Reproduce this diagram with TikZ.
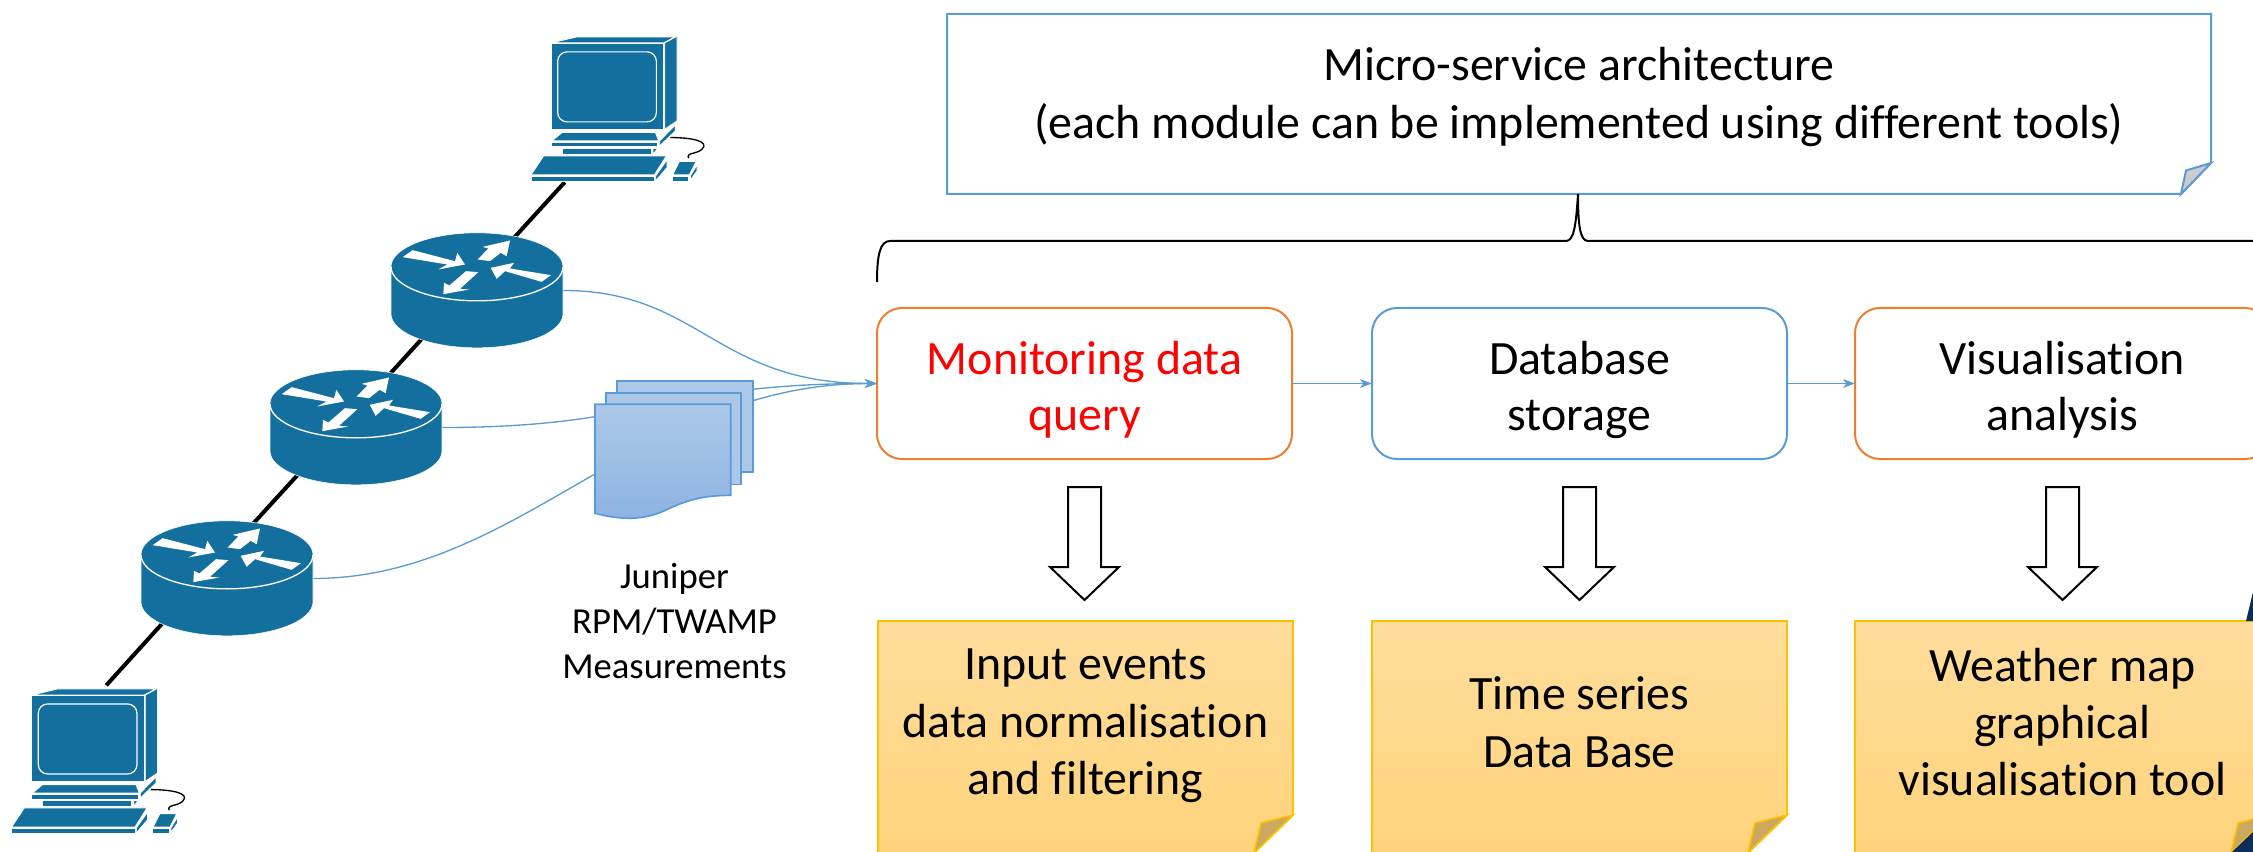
\documentclass[tikz,border=0pt]{standalone}
\usepackage{fontspec}
\setmainfont[Ligatures=NoCommon]{Carlito}
\usetikzlibrary{arrows.meta,calc,backgrounds}

\definecolor{ciscoblue}{RGB}{18,111,158}
\definecolor{officeblue}{RGB}{91,155,213}
\definecolor{officeorange}{RGB}{237,125,49}
\definecolor{officegold}{RGB}{255,192,0}
\definecolor{navybit}{RGB}{12,44,92}
\definecolor{sheettop}{RGB}{172,200,233}
\definecolor{sheetbottom}{RGB}{141,179,226}
\definecolor{notetop}{RGB}{255,221,156}
\definecolor{notebottom}{RGB}{255,211,123}
\definecolor{foldgold}{RGB}{202,168,96}

% pushes the two lines of a stage box a little below its middle
\newcommand{\topgap}{\rule{0pt}{41.5pt}}

\tikzset{every picture/.style={line width=0.75pt}}
\tikzset{
  bigtext/.style={font=\fontsize{35.9}{43}\selectfont,align=center,inner sep=0pt,outer sep=0pt,execute at begin node=\strut,execute at end node=\strut},
  stagebox/.style={font=\fontsize{35.9}{42}\selectfont,align=center,inner sep=0pt,outer sep=0pt,execute at end node=\strut,draw,rounded corners=18.75pt,line width=1.5pt,minimum width=311.25pt,minimum height=113.25pt},
  noteshell/.style={bigtext,minimum width=311.25pt,minimum height=164.25pt},
  archshell/.style={bigtext,minimum width=948pt,minimum height=131.25pt},
  routerspot/.style={inner sep=0pt,outer sep=0pt,minimum width=129pt,minimum height=86.25pt},
  pcspot/.style={inner sep=0pt,outer sep=0pt,minimum width=134.5pt,minimum height=108.75pt},
  flowline/.style={draw=officeblue,line width=1pt,-{Stealth[length=9pt,width=6.5pt,inset=2.5pt]}},
  netlink/.style={line width=3pt},
  hollowdown/.style={draw,fill=white,line width=1.5pt},
  sheet/.style={draw=officeblue,line width=1.25pt,fill=sheettop,inner sep=0pt,outer sep=0pt},
  pics/router/.style={code={
    \begin{scope}[x=0.25pt,y=-0.25pt,shift={(0,-71)}]
      \path[draw=white,line width=0.4pt,fill=ciscoblue] (-258,0) -- (-258,141) .. controls (-258,197) and (-142,243) .. (0,243) .. controls (142,243) and (258,197) .. (258,141) -- (258,0) .. controls (258,-56) and (142,-102) .. (0,-102) .. controls (-142,-102) and (-258,-56) .. (-258,0) -- cycle;
      \draw[white,line width=1pt] (-258,0) .. controls (-258,56) and (-142,102) .. (0,102) .. controls (142,102) and (258,56) .. (258,0);
      \fill[white] (-223,-29) -- (-193,-50) -- (-66,-17) -- (-59,-42) -- (-36,-7) -- (-116,8) -- (-89,-7) -- cycle;
      \fill[white] (2,-22) -- (34,-55) -- (17,-60) -- (99,-79) -- (89,-32) -- (71,-42) -- (39,-17) -- cycle;
      \fill[white] (41,3) -- (111,-12) -- (99,5) -- (222,25) -- (194,45) -- (84,13) -- (59,36) -- cycle;
      \fill[white] (-101,82) -- (-99,48) -- (-83,56) -- (-33,13) -- (4,16) -- (-51,66) -- (-23,68) -- cycle;
    \end{scope}
  }},
  pics/desktop/.style={code={
    \begin{scope}[x=0.25pt,y=-0.25pt,shift={(-209,-195.5)}]
      \draw[line width=1pt] (358,282) .. controls (418,282) and (478,292) .. (453,317) .. controls (438,332) and (403,327) .. (413,344);
      \begin{scope}[draw=white,fill=ciscoblue,line width=0.6pt]
        \filldraw (2,-2) -- (78,-20) -- (372,-20) -- (338,-2) -- cycle;
        \filldraw (341,-2) -- (378,-22) -- (378,232) -- (341,257) -- cycle;
        \filldraw (0,0) rectangle (338,257);
        \filldraw (3,292) -- (33,267) -- (313,267) -- (323,292) -- cycle;
        \filldraw (326,292) -- (373,244) -- (373,262) -- (326,307) -- cycle;
        \filldraw (0,297) rectangle (320,310);
        \filldraw (33,315) rectangle (300,332);
        \filldraw (306,315) -- (320,315) -- (306,332) -- cycle;
        \filldraw (-60,394) -- (-22,337) -- (346,337) -- (310,394) -- cycle;
        \filldraw (314,397) -- (348,349) -- (348,372) -- (314,412) -- cycle;
        \filldraw (-60,398) rectangle (310,413);
        \filldraw (365,394) -- (385,354) -- (435,354) -- (415,394) -- cycle;
        \filldraw (418,397) -- (438,364) -- (438,382) -- (418,410) -- cycle;
        \filldraw (363,398) rectangle (413,413);
      \end{scope}
      \draw[white,line width=0.9pt,rounded corners=7pt] (20,25) rectangle (316,235);
    \end{scope}
  }}
}

\begin{document}
\begin{tikzpicture}[x=0.75pt,y=0.75pt,yscale=-1,xscale=1]
  \useasboundingbox (0,0) rectangle (2253,852);

  %Routers and hosts, placed first so the links can go behind them
  \node[pcspot] (pcA) at (620.7,108.7) {};
  \node[pcspot] (pcB) at (101.3,760.8) {};
  \node[routerspot] (rA) at (477,290.5) {};
  \node[routerspot] (rB) at (356,427.5) {};
  \node[routerspot] (rC) at (227,578.5) {};
  \coordinate (footA) at ($(pcA.south)+(-56,1)$);
  \coordinate (footB) at ($(pcB.north)+(5,-3)$);
  \coordinate (tapA) at ($(rA)+(-11,0)$);
  \coordinate (tapB) at ($(rB)+(-15,0)$);
  \coordinate (tapC) at ($(rC)+(-24,0)$);

  %Stages
  \node[stagebox,draw=officeorange,text=red] (queryBox) at (1084.5,383.5) {\topgap Monitoring data\\query};
  \node[stagebox,draw=officeblue] (dbBox) at (1579.5,383.5) {\topgap Database\\storage};
  \node[stagebox,draw=officeorange] (vizBox) at (2062.5,383.5) {\topgap Visualisation\\analysis};

  %Straight Lines
  \draw[netlink] (footA) -- (tapA) -- (tapB) -- (tapC) -- (footB);

  %Curves into the first stage
  \draw[flowline] (rA.east) .. controls (700,290.5) and (715,383.5) .. (queryBox.west);
  \draw[flowline] (rB.east) .. controls (650,427.5) and (660,383.5) .. (queryBox.west);
  \draw[flowline] (rC.east) .. controls (520,578.5) and (640,383.5) .. (queryBox.west);
  \draw[flowline] (queryBox) -- (dbBox);
  \draw[flowline] (dbBox) -- (vizBox);

  \pic at (pcA) {desktop};
  \pic at (pcB) {desktop};
  \pic at (rA) {router};
  \pic at (rB) {router};
  \pic at (rC) {router};

  %Measurement sheets
  \node[sheet,minimum width=102pt,minimum height=68.5pt] (sheetBack) at (684.7,426.6) {};
  \node[sheet,minimum width=101.25pt,minimum height=68.75pt] (sheetMid) at (673.5,438.5) {};
  \draw[officeblue,line width=1.25pt,top color=sheettop,bottom color=sheetbottom] (595,404.3) -- (730.7,404.3) -- (730.7,495.3) .. controls (705,495.5) and (690,499) .. (668,509) .. controls (645,521) and (620,520) .. (595,513.3) -- cycle;

  % Text Node
  \node[inner sep=0pt,outer sep=0pt,align=center,font=\fontsize{27.5}{33.75}\selectfont] (sheetLabel) at (674.5,621) {Juniper\\RPM/TWAMP\\Measurements};

  %Note on top
  \node[archshell] (archNote) at (1579,101.5) {Micro-service architecture\\(each module can be implemented using different tools)};
  \begin{pgfonlayer}{background}
    \filldraw[draw=officeblue,line width=1.5pt,fill=white] (archNote.north west) -- (archNote.north east) -- ($(archNote.south east)+(0,-26)$) -- ($(archNote.south east)+(-30,5)$) -- ($(archNote.south west)+(0,5)$) -- cycle;
    \filldraw[draw=officeblue,line width=1.5pt,fill=black!20] ($(archNote.south east)+(0,-26)$) -- ($(archNote.south east)+(-25,-18.5)$) -- ($(archNote.south east)+(-30,5)$) -- cycle;
  \end{pgfonlayer}

  %Brace
  \coordinate (braceTip) at ($(archNote.south)+(-1,5)$);
  \draw[line width=1.5pt] (877,282) .. controls (877,255) and (880,241) .. (890,241) -- (1566,241) .. controls (1574,241) and (1576,225) .. (braceTip) .. controls (1578,225) and (1580,241) .. (1588,241) -- (2275,241);

  %Notes below, text is centred above the middle of the paper
  \foreach \notename/\cx/\notetext in {inputNote/1085.5/{Input events\\data normalisation\\and filtering},seriesNote/1579.5/{Time series\\Data Base},mapNote/2062.5/{Weather map\\graphical\\visualisation tool}} {
    \node[noteshell] (\notename) at (\cx,730.5) {\notetext};
    \begin{pgfonlayer}{background}
      \path[top color=notetop,bottom color=notebottom] (\notename.north west) -- (\notename.north east) -- ($(\notename.south east)+(0,-25)$) -- ($(\notename.south east)+(-39,13)$) -- ($(\notename.south west)+(0,13)$) -- cycle;
      \draw[officegold,line width=1.25pt] ($(\notename.south west)+(0,13)$) -- (\notename.north west) -- (\notename.north east) -- ($(\notename.south east)+(0,-25)$) -- ($(\notename.south east)+(-39,13)$);
      \filldraw[draw=officegold,line width=1.25pt,fill=foldgold] ($(\notename.south east)+(0,-25)$) -- ($(\notename.south east)+(-32,-17)$) -- ($(\notename.south east)+(-39,13)$) -- cycle;
    \end{pgfonlayer}
  }

  %Bits of a picture showing at the right edge
  \begin{pgfonlayer}{background}
    \fill[navybit] (2246,621) -- (2253,592) -- (2253,621) -- cycle;
    \fill[navybit] (2232,852) -- (2253,832) -- (2253,852) -- cycle;
  \end{pgfonlayer}

  %Hollow arrows
  \foreach \boxname in {queryBox,dbBox,vizBox} {
    \draw[hollowdown] ($(\boxname.south)+(-16.5,28)$) -- ($(\boxname.south)+(16.5,28)$) -- ($(\boxname.south)+(16.5,108)$) -- ($(\boxname.south)+(34.5,108)$) -- ($(\boxname.south)+(0,141)$) -- ($(\boxname.south)+(-34.5,108)$) -- ($(\boxname.south)+(-16.5,108)$) -- cycle;
  }
\end{tikzpicture}
\end{document}
